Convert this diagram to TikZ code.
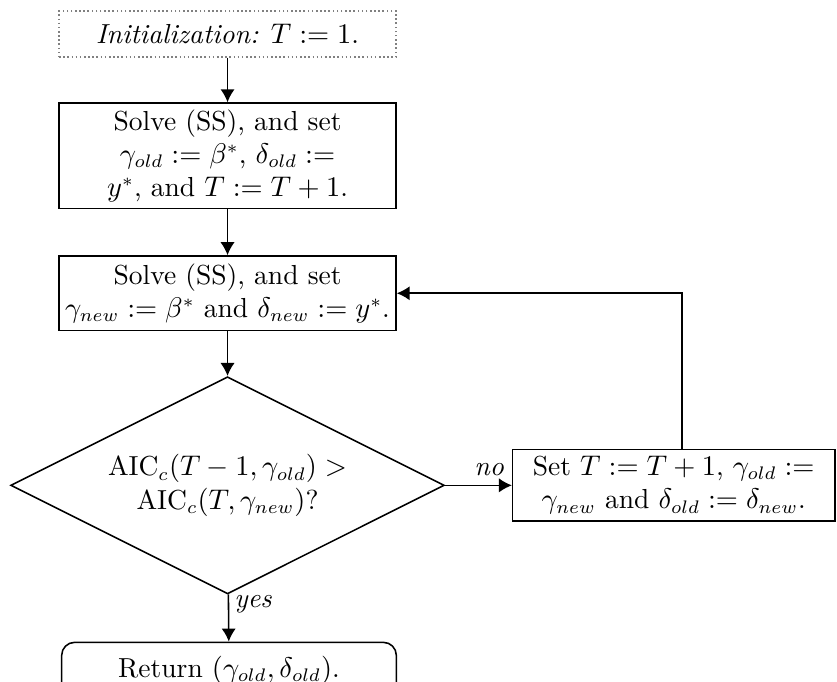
\documentclass[tikz,border=0pt]{standalone}
\usepackage{amsmath,amssymb}
\usepackage{tikz}
\usetikzlibrary{shapes,arrows.meta,positioning}

\begin{document}
\begin{tikzpicture}[>={Latex[length=5pt,width=5.5pt]},
    font=\fontsize{10.6pt}{12.8pt}\selectfont,
    box/.style={draw, rectangle, align=center, minimum width=4.56cm, inner sep=2pt, line width=0.6pt},
    decision/.style={draw, diamond, aspect=2, inner sep=0pt, minimum width=5.87cm, minimum height=2.94cm, line width=0.6pt},
    flow/.style={->, line width=0.6pt}]
    \useasboundingbox (0,0) rectangle (11.33,-9.22);

    \node[box, draw=gray, densely dotted, minimum height=0.62cm] (init) at (3.08,-0.46) {\textit{Initialization:} $T := 1$.};
    \node[box, minimum height=1.43cm] (solve1) at (3.08,-2.11) {Solve (SS), and set\\ $\gamma_{old} := \beta^*$, $\delta_{old} :=$\\ $y^*$, and $T := T+1$.};
    \node[box, minimum height=1.01cm] (solve2) at (3.08,-3.97) {Solve (SS), and set\\ $\gamma_{new} := \beta^*$ and $\delta_{new} := y^*$.};
    \node[decision, align=center] (test) at (3.08,-6.57) {AIC$_c(T-1,\gamma_{old}) >$\\ AIC$_c(T,\gamma_{new})$?};
    \node[box, minimum width=4.36cm, minimum height=0.97cm] (update) at (9.12,-6.57) {Set $T := T+1$, $\gamma_{old} :=$\\ $\gamma_{new}$ and $\delta_{old} := \delta_{new}$.};
    \node[box, rounded corners=5pt, minimum width=4.53cm, minimum height=0.75cm] (ret) at (3.1,-9.07) {Return $(\gamma_{old},\delta_{old})$.};

    \coordinate (back) at (9.23,-3.97);

    \draw[flow] (init) -- (solve1);
    \draw[flow] (solve1) -- (solve2);
    \draw[flow] (solve2) -- (test);
    \draw[flow] (test) -- node[pos=0.66, above] {\textit{no}} (update);
    \draw[flow] (test) -- node[pos=0.22, right, inner sep=2pt] {\textit{yes}} (ret);
    \draw[flow] (update.north -| back) |- (solve2.east);
\end{tikzpicture}
\end{document}
